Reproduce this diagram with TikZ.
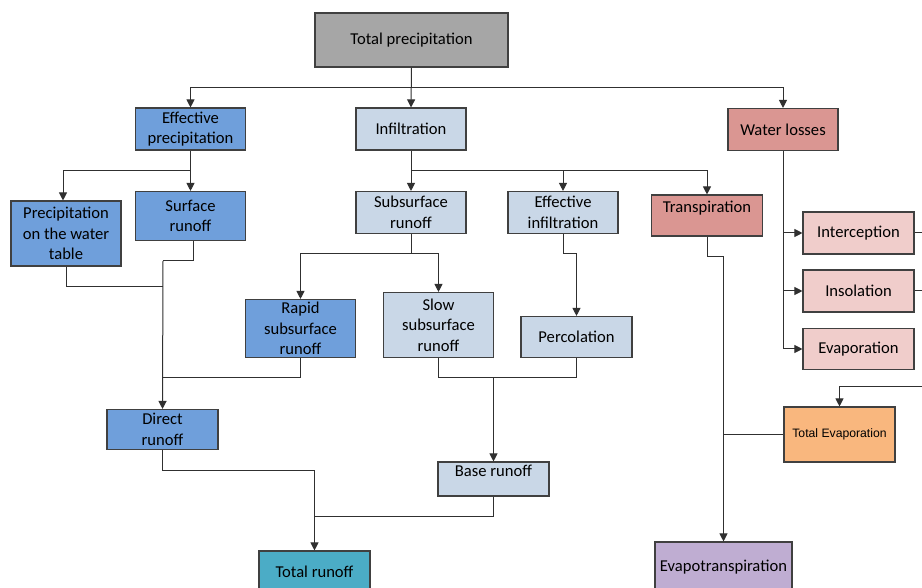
\documentclass[tikz,border=0pt]{standalone}
\usepackage{fontspec}
\setmainfont{Carlito}
\newfontfamily\arialfont{Liberation Sans}
\usetikzlibrary{arrows.meta}
\definecolor{cgray}{HTML}{A6A6A6}
\definecolor{cblue}{HTML}{6F9FDB}
\definecolor{clight}{HTML}{C9D7E7}
\definecolor{cred}{HTML}{DA9692}
\definecolor{cpink}{HTML}{F0CDCB}
\definecolor{corange}{HTML}{F9B77E}
\definecolor{cpurple}{HTML}{BFADD2}
\definecolor{cteal}{HTML}{4BACC6}
\definecolor{cline}{HTML}{303030}
\definecolor{cborder}{HTML}{404040}
\begin{document}
\begin{tikzpicture}[x=1pt,y=-1pt,
  box/.style={draw=cborder, line width=1.1pt, align=center, inner sep=1pt,
    minimum width=110pt, minimum height=42pt, font=\fontsize{16.6}{20.5}\selectfont},
  conn/.style={draw=cline, line width=1pt},
  arr/.style={conn, -{Triangle[length=8pt,width=8pt]}},
  raised/.style={text height=12pt, text depth=17pt}]
\clip (0,0) rectangle (922,588);
\fill[white] (0,0) rectangle (922,588);
% nodes
\node[box, fill=cgray, minimum width=193pt, minimum height=54pt] (tp) at (411.5,40) {Total precipitation};
\node[box, fill=cblue] (ep) at (190.5,129) {Effective\\precipitation};
\node[box, fill=clight] (inf) at (411,129) {Infiltration};
\node[box, fill=cred] (wl) at (783,129.5) {Water losses};
\node[box, fill=cblue, minimum height=65pt] (pwt) at (66,233.5) {Precipitation\\on the water\\table};
\node[box, fill=cblue, minimum height=49pt] (sr) at (190.5,216) {Surface\\runoff};
\node[box, fill=clight] (ssr) at (411,212.5) {Subsurface\\runoff};
\node[box, fill=clight] (ei) at (563,212.5) {Effective\\infiltration};
\node[box, fill=cred, minimum width=111pt, minimum height=41pt, raised] (trn) at (707,215.5) {Transpiration};
\node[box, fill=cblue, minimum height=58pt] (rs) at (300.5,328.5) {Rapid\\subsurface\\runoff};
\node[box, fill=clight, minimum height=65pt] (sl) at (438.5,325) {Slow\\subsurface\\runoff};
\node[box, fill=clight, minimum width=111pt, minimum height=41pt] (perc) at (576.5,337) {Percolation};
\node[box, fill=cpink, minimum width=111pt] (ic) at (858.5,233) {Interception};
\node[box, fill=cpink, minimum width=111pt] (is) at (858.5,291) {Insolation};
\node[box, fill=cpink, minimum width=111pt, minimum height=41pt] (ev) at (858.5,349) {Evaporation};
\node[box, fill=corange, minimum width=111pt, minimum height=55pt, font=\arialfont\fontsize{12.2}{14}\selectfont] (te) at (839.5,434.5) {Total Evaporation};
\node[box, fill=cblue, minimum width=111pt, minimum height=40pt] (dr) at (162.5,429.5) {Direct\\runoff};
\node[box, fill=clight, minimum width=111pt, minimum height=34pt, raised] (br) at (493.5,479) {Base runoff};
\node[box, fill=cteal, minimum width=111pt, minimum height=42pt] (tot) at (314.5,572) {Total runoff};
\node[box, fill=cpurple, minimum width=137pt, minimum height=50pt] (et) at (723.5,567) {Evapotranspiration};
% junction coordinates
\coordinate (j1) at (411,88);
\coordinate (j2) at (190.5,170.5);
\coordinate (j3) at (163,261);
\coordinate (j4) at (163,287);
\coordinate (j5) at (163,378);
\coordinate (j6) at (314.5,470);
\coordinate (j7) at (314.5,516.5);
\coordinate (j8) at (411,170.5);
\coordinate (j9) at (411,253.5);
\coordinate (j10) at (563,253.5);
\coordinate (j11) at (493.5,378);
\coordinate (j12) at (707,257);
\coordinate (j13) at (723.5,257);
\coordinate (j14) at (723.5,434.5);
\coordinate (j15) at (783,349);
\coordinate (e1) at (923,233);
\coordinate (e2) at (923,291);
\coordinate (e3) at (923,386);
% connectors
\draw[arr] (tp.south) -- (inf.north);
\draw[arr] (j1) -| (ep.north);
\draw[arr] (j1) -| (wl.north);
\draw[conn] (ep.south) -- (j2);
\draw[arr] (j2) -| ([xshift=-3pt]pwt.north);
\draw[arr] (j2) -- (sr.north);
\draw[conn] ([xshift=3pt]sr.south) |- (j3);
\draw[conn] (pwt.south) |- (j4);
\draw[conn] (rs.south) |- (j5);
\draw[arr] (j3) -- (dr.north);
\draw[conn] (dr.south) |- (j6);
\draw[conn] (br.south) |- (j7);
\draw[arr] (j6) -- (tot.north);
\draw[conn] (inf.south) -- (j8);
\draw[arr] (j8) -- (ssr.north);
\draw[arr] (j8) -| (ei.north);
\draw[arr] (j8) -| (trn.north);
\draw[conn] (ssr.south) -- (j9);
\draw[arr] (j9) -| (rs.north);
\draw[arr] (j9) -| (sl.north);
\draw[arr] (ei.south) -- (j10) -| (perc.north);
\draw[conn] (sl.south) |- (j11);
\draw[conn] (perc.south) |- (j11);
\draw[arr] (j11) -- (br.north);
\draw[arr] (trn.south) -- (j12) -- (j13) -- (et.north);
\draw[conn] (te.west) -- (j14);
\draw[conn] (wl.south) -- (j15);
\draw[arr] (wl.south |- ic.west) -- (ic.west);
\draw[arr] (wl.south |- is.west) -- (is.west);
\draw[arr] (j15) -- (ev.west);
\draw[conn] (ic.east) -- (e1);
\draw[conn] (is.east) -- (e2);
\draw[arr] (e3) -| (te.north);
\end{tikzpicture}
\end{document}
